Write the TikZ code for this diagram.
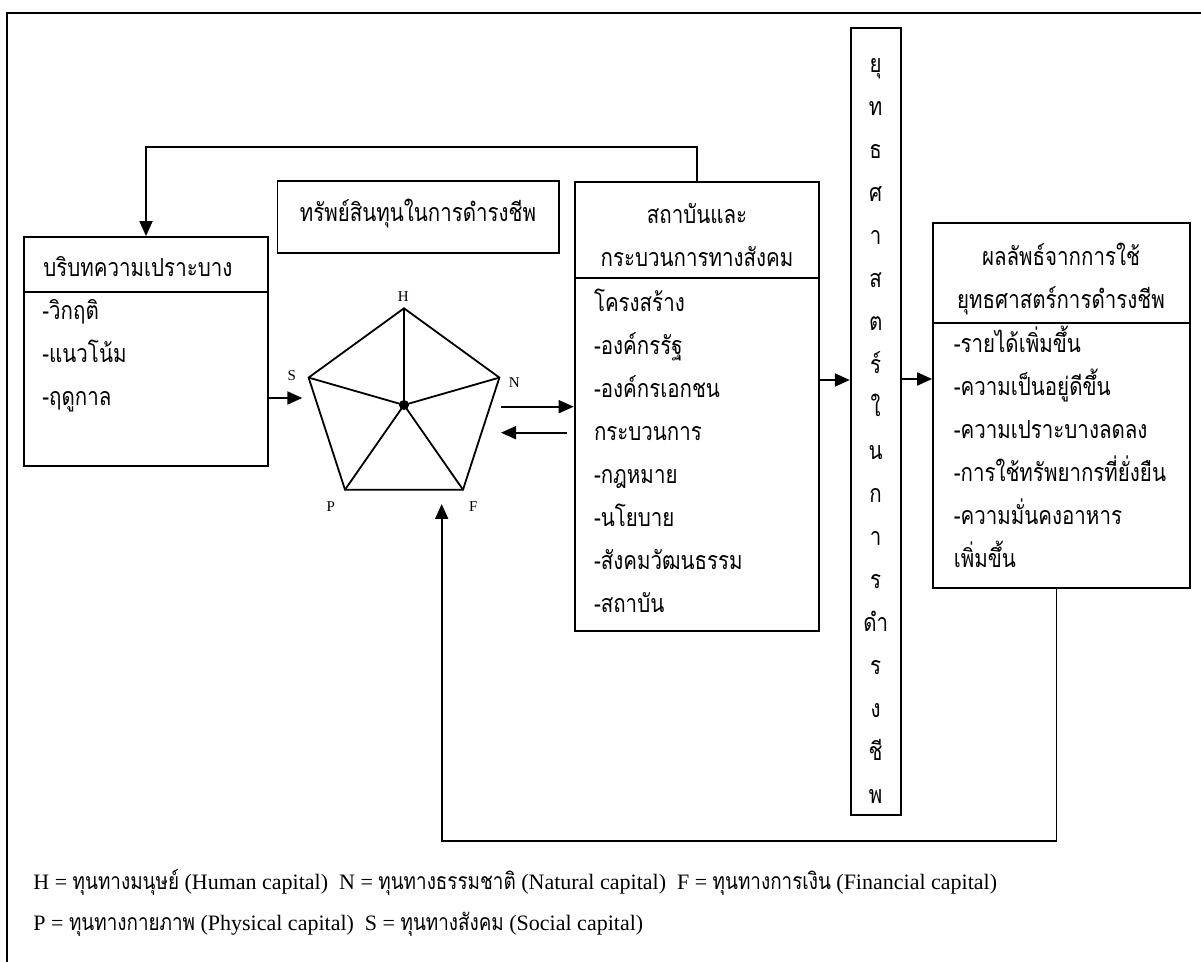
\documentclass[tikz,border=0pt]{standalone}
\usepackage{fontspec}
\setmainfont{Liberation Serif}
\newfontfamily\thaifont[Script=Thai,FakeStretch=0.82]{Loma}
\usetikzlibrary{arrows.meta,positioning,fit}
\newcommand{\tx}[1]{{\thaifont\fontsize{11.5}{13}\selectfont #1}}

\begin{document}
\begin{tikzpicture}[
    x=0.5pt, y=-0.5pt,
    box/.style={draw, line width=0.9pt, inner sep=0pt},
    line/.style={line width=0.9pt},
    thai/.style={font=\thaifont\fontsize{12.5}{21.5}\selectfont, inner sep=0pt},
    body/.style={thai, align=left, anchor=base west},
    head/.style={thai, align=center, anchor=base},
    vlabel/.style={font=\fontsize{7.5}{9}\selectfont, inner sep=0pt},
    legend/.style={font=\fontsize{11}{13}\selectfont, inner sep=0pt, anchor=base west},
    dot/.style={circle, fill, inner sep=0pt, minimum size=5pt},
    arrow/.style={-{Triangle[length=7.5pt, width=6.5pt]}, line width=0.9pt}
]
\useasboundingbox (0,0) rectangle (1201,962);
\draw[line width=1.4pt] (7,13) rectangle (1215,980);

% Boxes
\node[box, fit={(24,237)(268,466)}] (ctx) {};
\node[box, fit={(277.5,181)(558.7,252.7)}] (assets) {};
\node[box, fit={(574.6,181.7)(819,630.7)}] (inst) {};
\node[box, fit={(850.7,28.3)(900.7,815)}] (strat) {};
\node[box, fit={(933,222.7)(1190,588.3)}] (outcome) {};
\draw[line] (ctx.west |- 0,292) -- (ctx.east |- 0,292);
\draw[line] (inst.west |- 0,278) -- (inst.east |- 0,278);
\draw[line] (outcome.west |- 0,323.3) -- (outcome.east |- 0,323.3);

% Texts (anchor = baseline of the last line)
\node[body] (ctxhead) at (43,277) {บริบทความเปราะบาง};
\node[body] (ctxlist) at (42,405.5) {-วิกฤติ\\-แนวโน้ม\\-ฤดูกาล};
\node[head] (assetshead) at (418,221.5) {ทรัพย์สินทุนในการดำรงชีพ};
\node[head] (insthead) at (697,267) {สถาบันและ\\กระบวนการทางสังคม};
\node[body] (instlist) at (593.6,612.5) {โครงสร้าง\\-องค์กรรัฐ\\-องค์กรเอกชน\\กระบวนการ\\-กฎหมาย\\-นโยบาย\\-สังคมวัฒนธรรม\\-สถาบัน};
\node[head] (strattext) at (875.7,803) {ยุ\\ท\\ธ\\ศ\\า\\ส\\ต\\ร์\\ใ\\น\\ก\\า\\ร\\ดำ\\ร\\ง\\ชี\\พ};
\node[head] (outhead) at (1061,309) {ผลลัพธ์จากการใช้\\ยุทธศาสตร์การดำรงชีพ};
\node[body] (outlist) at (953.4,567.8) {-รายได้เพิ่มขึ้น\\-ความเป็นอยู่ดีขึ้น\\-ความเปราะบางลดลง\\-การใช้ทรัพยากรที่ยั่งยืน\\-ความมั่นคงอาหาร\\เพิ่มขึ้น};

% Pentagon of capitals
\coordinate (H) at (404,308.3);
\coordinate (N) at (499.4,377.6);
\coordinate (F) at (463,489.7);
\coordinate (P) at (345,489.7);
\coordinate (S) at (308.6,377.6);
\node[dot] (hub) at (404,405) {};
\draw[line, line join=miter] (H) -- (N) -- (F) -- (P) -- (S) -- cycle;
\draw[line] (hub.center) -- (H) (hub.center) -- (N) (hub.center) -- (F) (hub.center) -- (P) (hub.center) -- (S);
\node[vlabel] (labH) at (403.3,297) {H};
\node[vlabel] (labN) at (514.3,383) {N};
\node[vlabel] (labF) at (473.3,507) {F};
\node[vlabel] (labP) at (330.7,507) {P};
\node[vlabel] (labS) at (291.7,376) {S};

% Arrows
\coordinate (sIn) at (302.3,398);
\coordinate (nOut) at (501,406.7);
\coordinate (nIn) at (501,432.7);
\coordinate (fIn) at (441.7,504);
\draw[arrow] (ctx.east |- sIn) -- (sIn);
\draw[arrow] (nOut) -- (inst.west |- nOut);
\draw[arrow] ([xshift=-3.3pt]inst.west |- nIn) -- (nIn);
\draw[arrow] (inst.east |- 0,380) -- (strat.west |- 0,380);
\draw[arrow] (strat.east |- 0,379) -- (outcome.west |- 0,379);
\draw[arrow] (inst.north) -- ++(0,-33.7) -| (ctx.north);
\draw[arrow] ([xshift=-2.5pt]outcome.south) -- ++(0,251.7) -| (fIn);

% Legend
\node[legend] (legend1) at (33,889.5) {H = \tx{ทุนทางมนุษย์} (Human capital)~~N = \tx{ทุนทางธรรมชาติ} (Natural capital)~~F = \tx{ทุนทางการเงิน} (Financial capital)};
\node[legend] (legend2) at (33,930.5) {P = \tx{ทุนทางกายภาพ} (Physical capital)~~S = \tx{ทุนทางสังคม} (Social capital)};

\end{tikzpicture}
\end{document}
